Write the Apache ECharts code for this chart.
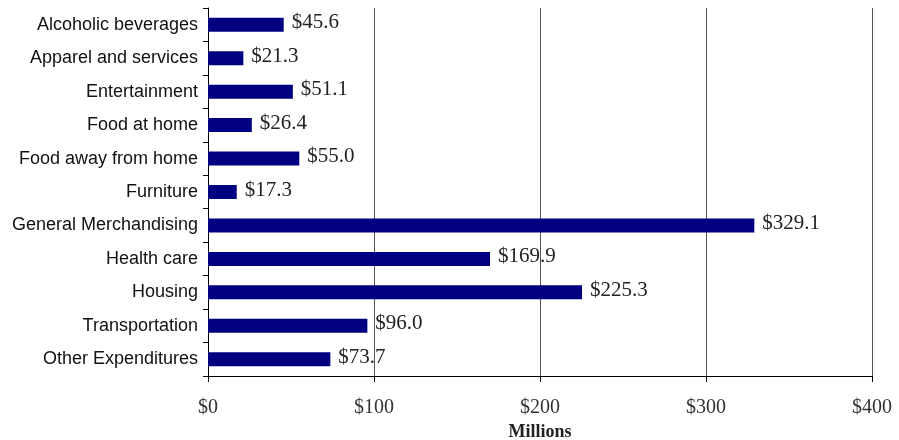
<!DOCTYPE html>
<html><head><meta charset="utf-8">
<script src="https://cdn.jsdelivr.net/npm/echarts@6/dist/echarts.min.js"></script>
<style>html,body{margin:0;padding:0;background:#fff}#c{width:899px;height:440px}</style>
</head><body><div id="c"></div>
<script>
const categories = ["Alcoholic beverages","Apparel and services","Entertainment","Food at home","Food away from home","Furniture","General Merchandising","Health care","Housing","Transportation","Other Expenditures"];
const values = [45.6,21.3,51.1,26.4,55.0,17.3,329.1,169.9,225.3,96.0,73.7];
const xTicks = [0,100,200,300,400];
const xName = "Millions";

const chart = echarts.init(document.getElementById('c'), null, {renderer:'canvas'});
chart.setOption({
  animation:false,
  grid:{left:208,right:27,top:8,bottom:64,containLabel:false,outerBoundsMode:'none'},
  xAxis:{
    type:'value',min:xTicks[0],max:xTicks[xTicks.length-1],interval:100,
    name:xName,nameLocation:'middle',nameGap:46,
    nameTextStyle:{fontFamily:'Liberation Serif',fontWeight:'bold',fontSize:18,color:'#222'},
    axisLine:{show:true,lineStyle:{color:'#000',width:1}},
    axisTick:{show:true,length:6,lineStyle:{color:'#000'}},
    axisLabel:{formatter:v=>'$'+v,margin:22,fontFamily:'Liberation Serif',fontSize:20,color:'#333'},
    splitLine:{show:true,lineStyle:{color:'#555',width:1}}
  },
  yAxis:{
    type:'category',data:categories,inverse:true,
    axisLine:{show:true,lineStyle:{color:'#000',width:1}},
    axisTick:{show:true,length:5,lineStyle:{color:'#000'}},
    axisLabel:{margin:10,fontFamily:'Liberation Sans',fontSize:18,color:'#111'},
    splitLine:{show:false}
  },
  series:[{
    type:'bar',data:values,barWidth:14,
    itemStyle:{color:'#000080'},
    label:{show:true,position:'right',distance:8,formatter:p=>'$'+p.value.toFixed(1),
      fontFamily:'Liberation Serif',fontSize:21,color:'#222',offset:[0,-2]}
  }]
});
</script></body></html>
